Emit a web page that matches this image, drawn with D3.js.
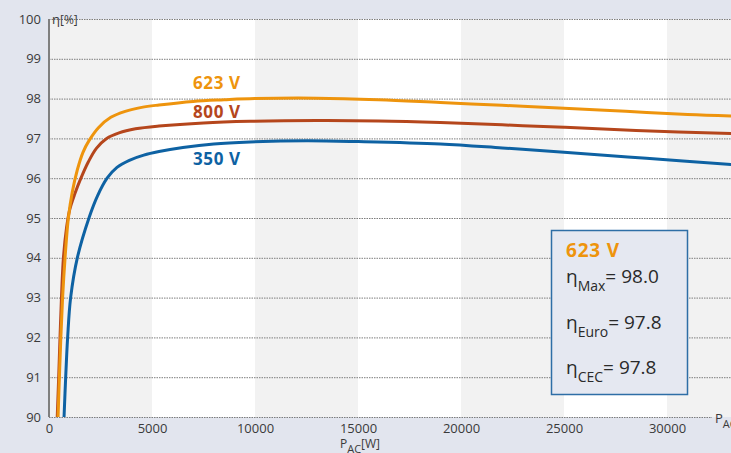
<!DOCTYPE html>
<html><head><meta charset="utf-8">
<script src="https://cdn.jsdelivr.net/npm/d3@7"></script>
<style>
html,body{margin:0;padding:0;background:#e2e5ee;}
svg{display:block;font-family:"Open Sans",sans-serif;}
</style></head>
<body><svg id="c" width="731" height="453"></svg>
<script>
const xTicks = [0, 5000, 10000, 15000, 20000, 25000, 30000];
const yTicks = [90, 91, 92, 93, 94, 95, 96, 97, 98, 99, 100];
const bandStarts = [0, 10000, 20000, 30000];
const seriesNames = ["350 V", "800 V", "623 V"];
const seriesColors = ["#0e62a3", "#b5461c", "#ee940d"];
const powerW = {
  "623 V": [440, 505, 575, 660, 780, 940, 1130, 1370, 1650, 1950, 2400, 3000, 3700, 4500, 5340, 7000, 8500, 10000, 13000, 16000, 19000, 22000, 25000, 28000, 31000, 33300],
  "800 V": [400, 470, 535, 605, 700, 850, 1000, 1250, 1550, 1900, 2300, 2800, 3400, 4200, 5340, 7500, 9760, 13000, 16000, 19000, 22000, 25000, 28500, 33300],
  "350 V": [730, 810, 905, 1050, 1375, 1940, 2350, 2820, 3300, 3900, 4600, 5340, 6500, 8000, 9760, 12500, 15000, 19000, 22000, 25000, 29000, 33300]
};
const eta = {
  "623 V": [90, 91, 92, 93, 94, 95, 95.65, 96.2, 96.65, 96.95, 97.27, 97.53, 97.68, 97.78, 97.84, 97.93, 97.97, 98.0, 98.01, 97.97, 97.9, 97.83, 97.76, 97.68, 97.6, 97.56],
  "800 V": [90, 91, 92, 93, 94, 94.75, 95.2, 95.6, 96.0, 96.4, 96.75, 97.0, 97.14, 97.24, 97.31, 97.39, 97.43, 97.45, 97.44, 97.4, 97.34, 97.28, 97.2, 97.12],
  "350 V": [90, 91, 92, 93, 94, 95, 95.55, 96, 96.27, 96.45, 96.58, 96.67, 96.77, 96.86, 96.91, 96.94, 96.92, 96.86, 96.76, 96.65, 96.5, 96.34]
};
const boxTitle = "623 V";
const boxRows = [["Max", "98.0"], ["Euro", "97.8"], ["CEC", "97.8"]];

const svg = d3.select("#c");
const x = d3.scaleLinear().domain([0, 35000]).range([49, 770]);
const y = d3.scaleLinear().domain([90, 100]).range([417, 19]);

// bands
svg.append("rect").attr("x", x(0)).attr("y", y(100)).attr("width", 731 - x(0)).attr("height", y(90) - y(100)).attr("fill", "#ffffff");
svg.selectAll("rect.band").data(bandStarts).enter().append("rect")
  .attr("x", d => x(d)).attr("y", y(100))
  .attr("width", d => x(d + 5000) - x(d)).attr("height", y(90) - y(100))
  .attr("fill", "#f2f2f2");

// gridlines
svg.selectAll("line.grid").data(yTicks).enter().append("line")
  .attr("x1", x(0)).attr("x2", d => d === 90 ? 712 : 731)
  .attr("y1", d => y(d) + 0.5).attr("y2", d => y(d) + 0.5)
  .attr("stroke", "#7d7d7d").attr("stroke-width", 1).attr("stroke-dasharray", "1.5,1");

// y axis
const yAxis = d3.axisLeft(y).tickValues(yTicks).tickSize(0).tickPadding(8).tickFormat(d3.format("d"));
const ga = svg.append("g").attr("transform", `translate(${x(0)},0)`).call(yAxis);
ga.select(".domain").remove();
ga.selectAll("text").attr("font-size", 13).attr("fill", "#3a3a3a").attr("font-family", "Open Sans");
svg.append("line").attr("x1", x(0)).attr("x2", x(0)).attr("y1", y(100)).attr("y2", y(90))
  .attr("stroke", "#7f7f7f").attr("stroke-width", 2);

// x axis
const xAxis = d3.axisBottom(x).tickValues(xTicks).tickSize(0).tickPadding(7).tickFormat(d3.format("d"));
const gx = svg.append("g").attr("transform", `translate(0,${y(90)})`).call(xAxis);
gx.select(".domain").remove();
gx.selectAll("text").attr("font-size", 13).attr("fill", "#3a3a3a").attr("font-family", "Open Sans");

// lines
const line = d3.line().x(d => x(d[0])).y(d => y(d[1])).curve(d3.curveCatmullRom.alpha(0.5));
seriesNames.forEach((name, i) => {
  const pts = powerW[name].map((w, j) => [w, eta[name][j]]);
  svg.append("path").datum(pts).attr("d", line)
    .attr("fill", "none").attr("stroke", seriesColors[i]).attr("stroke-width", 3)
    .attr("stroke-linejoin", "round");
});

// series labels
const labelPos = {"623 V": [193, 89], "800 V": [193, 118], "350 V": [193, 165]};
seriesNames.forEach((name, i) => {
  svg.append("text").attr("x", labelPos[name][0]).attr("y", labelPos[name][1])
    .attr("font-size", 17).attr("letter-spacing", 0.6).attr("font-weight", "bold").attr("fill", seriesColors[i]).text(name);
});

// axis titles
const t1 = svg.append("text").attr("x", 52).attr("y", 24).attr("font-size", 13).attr("fill", "#3a3a3a");
t1.append("tspan").text("η");
t1.append("tspan").attr("font-size", 12).text("[%]");
const t2 = svg.append("text").attr("x", 340).attr("y", 448).attr("font-size", 12).attr("fill", "#3a3a3a");
t2.append("tspan").text("P");
t2.append("tspan").attr("dy", 5).attr("font-size", 11).text("AC");
t2.append("tspan").attr("dy", -5).text("[W]");
const t3 = svg.append("text").attr("x", 715).attr("y", 423).attr("font-size", 13).attr("fill", "#3a3a3a");
t3.append("tspan").text("P");
t3.append("tspan").attr("dy", 5).attr("font-size", 11).text("AC");

// info box
svg.append("rect").attr("x", 551.5).attr("y", 230.5).attr("width", 136).attr("height", 164)
  .attr("fill", "#e5e8f1").attr("stroke", "#2e6ea6").attr("stroke-width", 1.5);
svg.append("text").attr("x", 566).attr("y", 257).attr("font-size", 19).attr("letter-spacing", 0.8).attr("font-weight", "bold")
  .attr("fill", seriesColors[2]).text(boxTitle);
boxRows.forEach((r, i) => {
  const t = svg.append("text").attr("x", 566).attr("y", 283 + i * 45.5).attr("font-size", 19).attr("fill", "#2a2a2a");
  t.append("tspan").text("η");
  t.append("tspan").attr("dy", 8).attr("font-size", 14).text(r[0]);
  t.append("tspan").attr("dy", -8).text("= " + r[1]);
});
</script></body></html>
